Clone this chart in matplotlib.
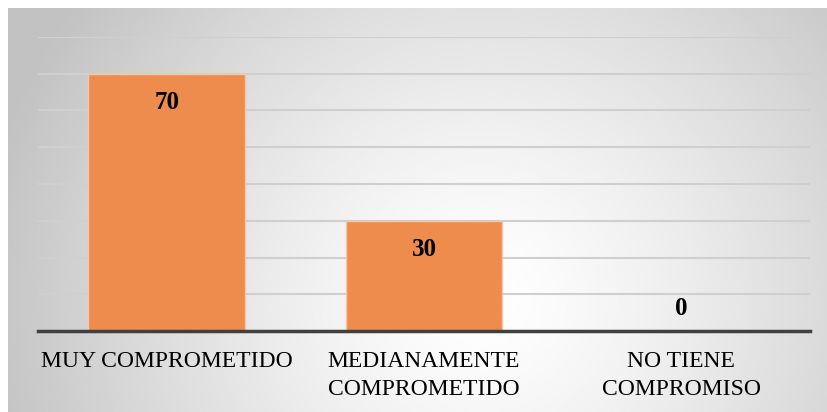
import numpy as np
import matplotlib.pyplot as plt

# Data
categories = ["MUY COMPROMETIDO", "MEDIANAMENTE\nCOMPROMETIDO", "NO TIENE\nCOMPROMISO"]
values = [70, 30, 0]
bar_color = "#EE8C4E"

W, H = 827, 412
fig = plt.figure(figsize=(W / 100, H / 100), dpi=100)
fig.patch.set_facecolor("white")

# === Background panel with radial gradient === #
bg = fig.add_axes([8 / W, 0, 1 - 8 / W, 1 - 8 / H])
bg.set_axis_off()
nx, ny = 400, 200
xx, yy = np.meshgrid(np.linspace(0, 1, nx), np.linspace(0, 1, ny))
cx, cy = 0.58, 0.72  # lightest spot (image coords, y down)
r = np.sqrt(((xx - cx) * 1.0) ** 2 + ((yy - cy) * 0.5) ** 2)
r = np.clip(r / 0.62, 0, 1)
shade = 1.0 - 0.24 * r ** 1.3
bg.imshow(shade, cmap="gray", vmin=0, vmax=1, aspect="auto",
          extent=[0, 1, 1, 0], interpolation="bilinear")
bg.set_xlim(0, 1)
bg.set_ylim(1, 0)

# === Bar chart === #
ax = fig.add_axes([38 / W, 81 / H, 772 / W, 294 / H])
ax.patch.set_alpha(0)
x = np.arange(len(categories))
bars = ax.bar(x, values, width=0.61, color=bar_color,
              edgecolor="#F6C7A5", linewidth=1, zorder=3)

ax.set_xlim(-0.5, len(categories) - 0.5)
ax.set_ylim(0, 80)
ax.set_yticks(np.arange(0, 81, 10))
ax.yaxis.grid(True, color="#CFCFCF", linewidth=1.5, zorder=0)
ax.set_axisbelow(True)
ax.tick_params(axis="y", left=False, labelleft=False)
ax.tick_params(axis="x", bottom=False, pad=11)
ax.set_xticks(x)
ax.set_xticklabels(categories, fontsize=17, family="Liberation Serif",
                   linespacing=1.4)

for s in ["top", "right", "left"]:
    ax.spines[s].set_visible(False)
ax.spines["bottom"].set_color("#404040")
ax.spines["bottom"].set_linewidth(2.5)
ax.spines["bottom"].set_zorder(4)

# Data labels (inside end, or above the axis for zero)
for xi, v in zip(x, values):
    ypos = v - 7.9 if v > 10 else 6.0
    ax.text(xi, ypos, str(v), ha="center", va="center", fontsize=18,
            fontweight="bold", family="Liberation Serif", zorder=5)

plt.savefig("out.png", dpi=100)
